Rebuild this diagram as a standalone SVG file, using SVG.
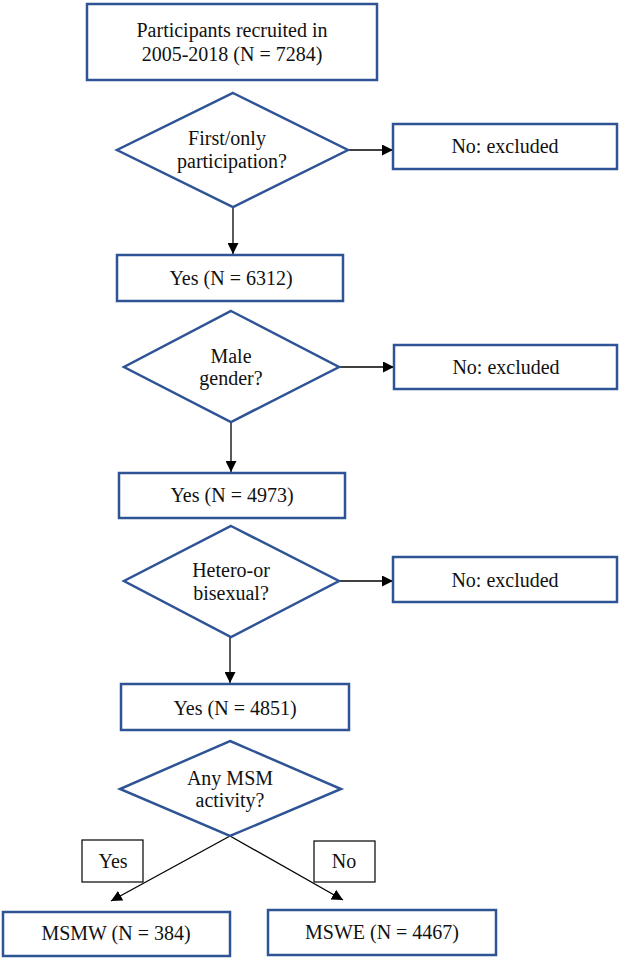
<svg xmlns="http://www.w3.org/2000/svg" width="623" height="960" viewBox="0 0 623 960">
<defs>
<style>
.box{fill:#fff;stroke:#2F5496;stroke-width:2.5}
.lbl{fill:#fff;stroke:#000;stroke-width:1.2}
.t{font-family:'Liberation Serif','DejaVu Serif',serif;font-size:20px;fill:#111;text-anchor:middle}
.c{stroke:#000;stroke-width:1.3;fill:none;marker-end:url(#ah)}
</style>
<marker id="ah" markerUnits="userSpaceOnUse" markerWidth="12" markerHeight="11" refX="11" refY="5.5" orient="auto">
<path d="M0,0 L11,5.5 L0,11 Z" fill="#000"/>
</marker>
</defs>
<rect width="623" height="960" fill="#fff"/>
<g id="connectors">
<line class="c" x1="348" y1="150" x2="393" y2="150"/>
<line class="c" x1="233" y1="207" x2="233" y2="254"/>
<line class="c" x1="339" y1="367" x2="394" y2="367"/>
<line class="c" x1="231" y1="422" x2="231" y2="472"/>
<line class="c" x1="339" y1="581" x2="393" y2="581"/>
<line class="c" x1="230" y1="637" x2="230" y2="683"/>
<line class="c" x1="230" y1="836" x2="111" y2="901"/>
<line class="c" x1="230" y1="836" x2="343" y2="900"/>
</g>
<g id="start">
<rect class="box" x="87" y="4" width="290" height="76"/>
<text class="t" x="232" y="37">Participants recruited in</text>
<text class="t" x="232" y="61">2005-2018 (N = 7284)</text>
</g>
<g id="q1">
<polygon class="box" points="233,93 348,150 233,207 117,150"/>
<text class="t" x="227" y="145">First/only</text>
<text class="t" x="232" y="168">participation?</text>
</g>
<g id="ex1">
<rect class="box" x="393" y="124" width="224" height="45"/>
<text class="t" x="505" y="153">No: excluded</text>
</g>
<g id="yes1">
<rect class="box" x="117" y="255" width="226" height="46"/>
<text class="t" x="231" y="285">Yes (N = 6312)</text>
</g>
<g id="q2">
<polygon class="box" points="231,311 339,367 231,422 124,367"/>
<text class="t" x="231" y="363">Male</text>
<text class="t" x="231" y="385">gender?</text>
</g>
<g id="ex2">
<rect class="box" x="394" y="345" width="223" height="44"/>
<text class="t" x="506" y="374">No: excluded</text>
</g>
<g id="yes2">
<rect class="box" x="119" y="473" width="226" height="45"/>
<text class="t" x="232" y="502">Yes (N = 4973)</text>
</g>
<g id="q3">
<polygon class="box" points="231,526 339,581 231,637 124,581"/>
<text class="t" x="231" y="577">Hetero-or</text>
<text class="t" x="231" y="600">bisexual?</text>
</g>
<g id="ex3">
<rect class="box" x="393" y="557" width="224" height="45"/>
<text class="t" x="505" y="587">No: excluded</text>
</g>
<g id="yes3">
<rect class="box" x="121" y="684" width="228" height="46"/>
<text class="t" x="235" y="715">Yes (N = 4851)</text>
</g>
<g id="q4">
<polygon class="box" points="230,741 341,789 230,836 120,789"/>
<text class="t" x="230" y="785">Any MSM</text>
<text class="t" x="230" y="807">activity?</text>
</g>
<g id="lblYes">
<rect class="lbl" x="82" y="840" width="61" height="42"/>
<text class="t" x="113" y="868">Yes</text>
</g>
<g id="lblNo">
<rect class="lbl" x="314" y="841" width="61" height="41"/>
<text class="t" x="344" y="868">No</text>
</g>
<g id="msmw">
<rect class="box" x="3" y="912" width="227" height="44"/>
<text class="t" x="116" y="940">MSMW (N = 384)</text>
</g>
<g id="mswe">
<rect class="box" x="268" y="910" width="228" height="45"/>
<text class="t" x="382" y="939">MSWE (N = 4467)</text>
</g>
</svg>
